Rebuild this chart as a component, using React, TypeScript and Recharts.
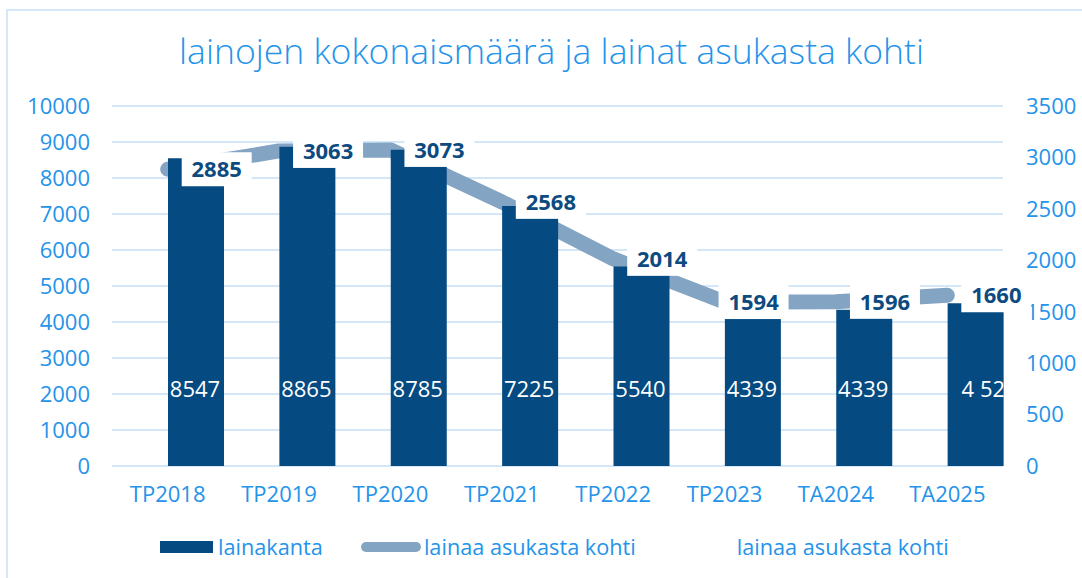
import React from 'react'
import {
  ComposedChart, Bar, Line, XAxis, YAxis, CartesianGrid, LabelList
} from 'recharts'

const categories = ['TP2018', 'TP2019', 'TP2020', 'TP2021', 'TP2022', 'TP2023', 'TA2024', 'TA2025']
const lainakanta = [8547, 8865, 8785, 7225, 5540, 4339, 4339, 4520]
const lainakantaLabels = ['8547', '8865', '8785', '7225', '5540', '4339', '4339', '4 520']
const asukastaKohti = [2885, 3063, 3073, 2568, 2014, 1594, 1596, 1660]
const leftTicks = [0, 1000, 2000, 3000, 4000, 5000, 6000, 7000, 8000, 9000, 10000]
const rightTicks = [0, 500, 1000, 1500, 2000, 2500, 3000, 3500]
const seriesNames = ['lainakanta', 'lainaa asukasta kohti', 'lainaa asukasta kohti']
const title = 'lainojen kokonaismäärä ja lainat asukasta kohti'

const data = categories.map((c, i) => ({
  cat: c,
  lainakanta: lainakanta[i],
  asukasta: asukastaKohti[i],
}))

const FONT = "'Open Sans', 'Noto Sans', sans-serif"
const BLUE_TEXT = '#2493ea'
const BAR = '#054a81'
const LINE = '#84a4c3'
const LABEL = '#0c4a80'
const GRID = '#d3e7f9'

// a couple of labels were nudged by hand in the original
const barLabelShift: Record<number, number> = { 7: 15 }
const pointLabelShift: Record<number, number> = { 5: -20 }

function pick(props: any) {
  const vb = props.viewBox ?? {}
  return {
    x: props.x ?? vb.x,
    y: props.y ?? vb.y,
    width: props.width ?? vb.width ?? 0,
    height: props.height ?? vb.height ?? 0,
  }
}

function BarValueLabel(props: any) {
  const { x, y, width, height } = pick(props)
  const i = props.index
  const text = lainakantaLabels[i] ?? String(props.value)
  const id = `bar-lbl-clip-${i}`
  return (
    <g>
      <clipPath id={id}>
        <rect x={x} y={y} width={width} height={height} />
      </clipPath>
      <text
        x={x + width / 2 - 1 + (barLabelShift[i] ?? 0)}
        y={y + height - 69}
        textAnchor="middle"
        fill="#ffffff"
        fontSize={22}
        fontFamily={FONT}
        clipPath={`url(#${id})`}
      >
        {text}
      </text>
    </g>
  )
}

function PointLabel(props: any) {
  const { x: px, y } = pick(props)
  const x = px + (pointLabelShift[props.index] ?? 0)
  return (
    <g>
      <rect x={x + 14} y={y - 17} width={70} height={34} fill="#ffffff" />
      <text
        x={x + 49}
        y={y + 8}
        textAnchor="middle"
        fill={LABEL}
        fontSize={22}
        fontWeight={700}
        fontFamily={FONT}
      >
        {props.value}
      </text>
    </g>
  )
}

function Legend() {
  const text = { fontSize: 21.7, color: BLUE_TEXT, fontFamily: FONT, lineHeight: '22px', whiteSpace: 'nowrap' as const }
  return (
    <div style={{ position: 'absolute', left: 160, top: 536, display: 'flex', alignItems: 'center', height: 22 }}>
      <div style={{ width: 53, height: 12, background: BAR, marginRight: 5 }} />
      <span style={text}>{seriesNames[0]}</span>
      <div style={{ width: 60, height: 10, borderRadius: 5, background: LINE, marginLeft: 38, marginRight: 3 }} />
      <span style={text}>{seriesNames[1]}</span>
      <div style={{ width: 60, height: 10, marginLeft: 38, marginRight: 3 }} />
      <span style={text}>{seriesNames[2]}</span>
    </div>
  )
}

export default function App() {
  const tick = { fill: BLUE_TEXT, fontSize: 22, fontFamily: FONT }
  return (
    <div style={{ position: 'absolute', left: 0, top: 0, width: 1082, height: 578, overflow: 'hidden', background: '#fff' }}>
      <div style={{ position: 'absolute', left: 6, top: 9, width: 1200, height: 700, border: '2px solid #d4e8f9' }} />
      <div
        style={{
          position: 'absolute', left: 0, top: 30, width: 1103, textAlign: 'center',
          fontFamily: FONT, fontSize: 35.5, fontWeight: 300, color: BLUE_TEXT, lineHeight: '40px',
        }}
      >
        {title}
      </div>
      <div style={{ position: 'absolute', left: 0, top: 0 }}>
        <ComposedChart
          width={1082}
          height={578}
          data={data}
          margin={{ top: 106, right: 9, bottom: 72, left: 12 }}
          barCategoryGap={0}
          barGap={0}
        >
          <CartesianGrid yAxisId="left" vertical={false} stroke={GRID} strokeWidth={2} />
          <XAxis dataKey="cat" axisLine={false} tickLine={false} tickSize={0} tickMargin={20} height={40} tick={tick} interval={0} />
          <YAxis yAxisId="left" width={100} domain={[0, 10000]} ticks={leftTicks} axisLine={false} tickLine={false} tickSize={0} tickMargin={22} tick={tick} />
          <YAxis yAxisId="right" orientation="right" width={70} domain={[0, 3500]} ticks={rightTicks} axisLine={false} tickLine={false} tickSize={0} tickMargin={23} tick={tick} />
          <Line
            yAxisId="right"
            dataKey="asukasta"
            name={seriesNames[1]}
            stroke={LINE}
            strokeWidth={15}
            strokeLinecap="round"
            strokeLinejoin="round"
            dot={false}
            activeDot={false}
            isAnimationActive={false}
            zIndex={250}
          />
          <Bar yAxisId="right" dataKey="asukasta" name={seriesNames[2]} fill="transparent" isAnimationActive={false} zIndex={300} />
          <Bar yAxisId="left" dataKey="lainakanta" name={seriesNames[0]} fill={BAR} isAnimationActive={false} zIndex={300}>
            <LabelList dataKey="lainakanta" content={BarValueLabel} />
          </Bar>
          <Line
            yAxisId="right"
            dataKey="asukasta"
            name={seriesNames[2]}
            stroke="none"
            dot={false}
            activeDot={false}
            legendType="none"
            isAnimationActive={false}
          >
            <LabelList dataKey="asukasta" content={PointLabel} />
          </Line>
        </ComposedChart>
      </div>
      <Legend />
    </div>
  )
}
